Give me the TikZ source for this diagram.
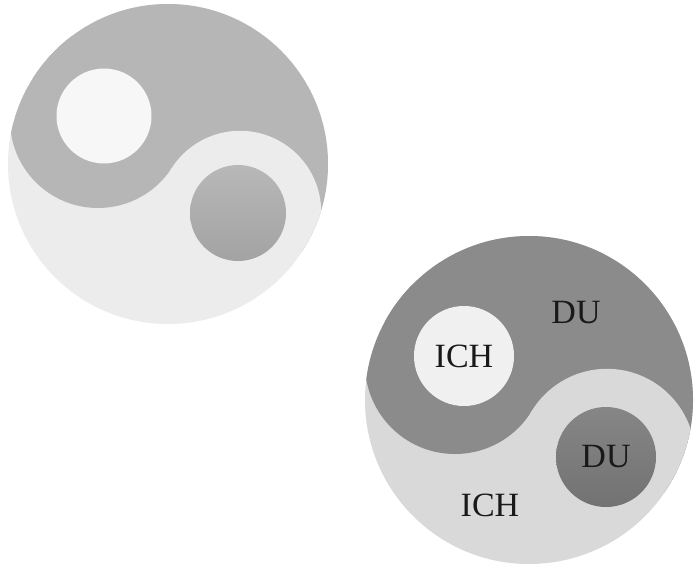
\documentclass[tikz,border=0pt]{standalone}
\usepackage{fontspec}
\setmainfont{Liberation Serif}
\definecolor{darkA}{RGB}{182,182,182}
\definecolor{lightA}{RGB}{236,236,236}
\definecolor{whiteA}{RGB}{247,247,247}
\definecolor{spotAtop}{RGB}{184,184,184}
\definecolor{spotAbot}{RGB}{163,163,163}
\definecolor{darkB}{RGB}{139,139,139}
\definecolor{lightB}{RGB}{217,217,217}
\definecolor{whiteB}{RGB}{240,240,240}
\definecolor{spotBtop}{RGB}{134,134,134}
\definecolor{spotBbot}{RGB}{114,114,114}
\definecolor{ink}{RGB}{25,25,25}
\begin{document}
\begin{tikzpicture}[x=1pt,y=-1pt,
  lbl/.style={font=\fontsize{34}{40}\selectfont, text=ink, inner sep=0pt},
  spot/.style={circle, inner sep=0pt, draw=none}
]
\useasboundingbox[fill=white] (0,0) rectangle (698,572);

% ---------- first yin-yang ----------
\begin{scope}
  \clip (168,164) circle[radius=160];
  \fill[lightA] (168,164) circle[radius=162];
  % half plane above the axis through the two bulge centres
  \fill[darkA] (-186,-64) -- (382,304) -- (500,-200) -- (-100,-300) -- cycle;
  \fill[darkA] (98,120) circle[radius=88];
  \fill[lightA] (240,212) circle[radius=81.2];
\end{scope}
\node[spot, fill=whiteA, minimum size=95] (w1) at (104,116) {};
\node[spot, top color=spotAtop, bottom color=spotAbot, minimum size=96] (g1) at (238,213) {};

% ---------- second yin-yang ----------
\begin{scope}
  \clip (529,400) circle[radius=164];
  \fill[lightB] (529,400) circle[radius=166];
  \fill[darkB] (151,178) -- (759,550) -- (900,0) -- (300,-100) -- cycle;
  \fill[darkB] (455,364) circle[radius=90];
  \fill[lightB] (607,457) circle[radius=88.2];
\end{scope}
\node[spot, fill=whiteB, minimum size=100, lbl] (ich1) at (464,356) {ICH};
\node[spot, top color=spotBtop, bottom color=spotBbot, minimum size=100, lbl] (du2) at (606,457) {DU};
\node[lbl] (du1) at (576,313) {DU};
\node[lbl] (ich2) at (490,505) {ICH};
\end{tikzpicture}
\end{document}
